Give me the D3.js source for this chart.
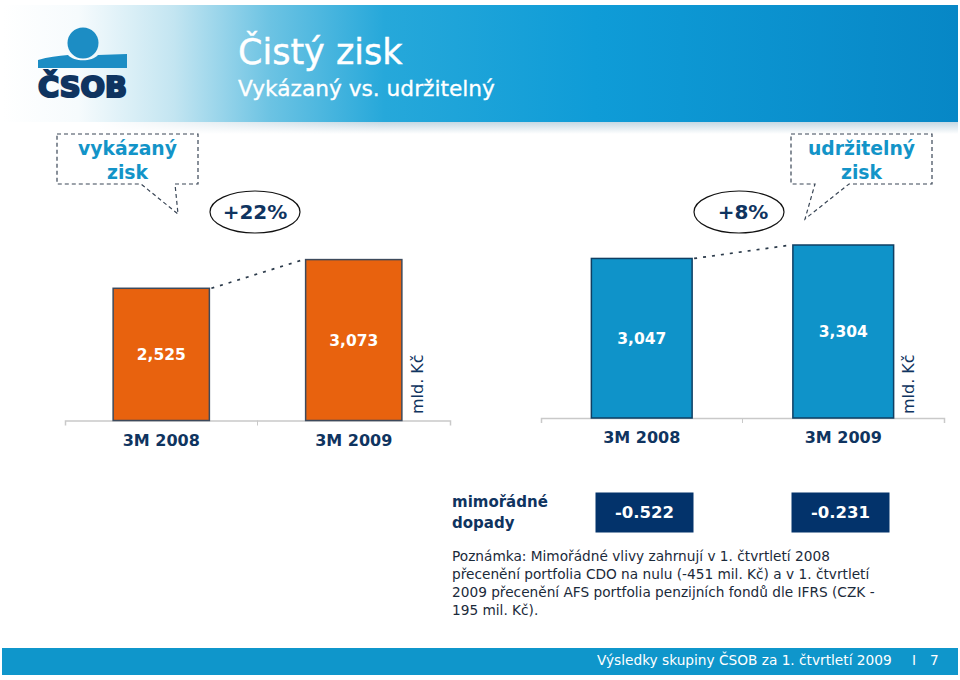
<!DOCTYPE html>
<html lang="cs">
<head>
<meta charset="utf-8">
<script src="https://cdn.jsdelivr.net/npm/d3@7/dist/d3.min.js"></script>
<style>
  html, body { margin: 0; padding: 0; background: #fff; }
  svg { display: block; }
  text { font-family: "DejaVu Sans", sans-serif; }
</style>
</head>
<body>
<div id="chart"></div>
<script>
const categories = ['3M 2008', '3M 2009'];
const reportedValues = [2525, 3073];
const sustainableValues = [3047, 3304];
const oneOffValues = [-0.522, -0.231];
const noteLines = [
  'Poznámka: Mimořádné vlivy zahrnují v 1. čtvrtletí 2008',
  'přecenění portfolia CDO na nulu (-451 mil. Kč) a v 1. čtvrtletí',
  '2009 přecenění AFS portfolia penzijních fondů dle IFRS (CZK -',
  '195 mil. Kč).'
];

const navy = '#0f3460';
const teal = '#1394c8';
const width = 960;
const height = 680;

const svg = d3.select('#chart').append('svg').attr('width', width).attr('height', height);
const defs = svg.append('defs');

const headerGrad = defs.append('linearGradient').attr('id', 'headerGrad');
[[0, '#ffffff'], [0.08, '#f6fbfd'], [0.18, '#c3e5f1'], [0.28, '#6cc3e3'], [0.4, '#26a8da'], [0.62, '#0f9cd7'], [1, '#0787c6']]
  .forEach(d => headerGrad.append('stop').attr('offset', d[0]).attr('stop-color', d[1]));
const fadeGrad = defs.append('linearGradient').attr('id', 'fadeGrad').attr('x1', 0).attr('x2', 0).attr('y1', 0).attr('y2', 1);
fadeGrad.append('stop').attr('offset', 0).attr('stop-color', '#c5d8e3');
fadeGrad.append('stop').attr('offset', 1).attr('stop-color', '#ffffff');
const fadeMask = defs.append('linearGradient').attr('id', 'fadeMask');
[[0, 1], [0.1, 1], [0.4, 0]].forEach(d => fadeMask.append('stop').attr('offset', d[0])
  .attr('stop-color', '#fff').attr('stop-opacity', d[1]));

// header
svg.append('rect').attr('x', 2).attr('y', 5).attr('width', 956).attr('height', 117).attr('fill', 'url(#headerGrad)');
svg.append('rect').attr('x', 2).attr('y', 122).attr('width', 956).attr('height', 12).attr('fill', 'url(#fadeGrad)');
svg.append('rect').attr('x', 2).attr('y', 122).attr('width', 956).attr('height', 12).attr('fill', 'url(#fadeMask)');
svg.append('text').attr('x', 238).attr('y', 64).attr('font-size', 35).attr('fill', '#fff')
  .attr('stroke', '#fff').attr('stroke-width', 0.4).text('Čistý zisk');
svg.append('text').attr('x', 238).attr('y', 96).attr('font-size', 21.7).attr('fill', '#fff')
  .attr('stroke', '#fff').attr('stroke-width', 0.3).text('Vykázaný vs. udržitelný');

// logo
const logo = svg.append('g');
logo.append('path')
  .attr('d', 'M38,60 C48,57 58,56 68,55 C74,62 92,62 98,55 L127,54 L127,68 L38,68 Z')
  .attr('fill', '#1c8dc4');
logo.append('circle').attr('cx', 83).attr('cy', 43).attr('r', 15.5).attr('fill', '#1c8dc4');
logo.append('text').attr('x', 38).attr('y', 97).attr('font-size', 29).attr('font-weight', 'bold')
  .attr('textLength', 89).attr('lengthAdjust', 'spacingAndGlyphs')
  .attr('fill', navy).attr('stroke', navy).attr('stroke-width', 2.2).text('ČSOB');

// one panel of two bars with its axis
function drawPanel(values, range, color, stroke, unitX) {
  const x = d3.scaleBand().domain(categories).range(range).paddingInner(0.5).paddingOuter(0.25);
  const y = d3.scaleLinear().domain([0, 3304]).range([0, 173]);
  const baseY = values === reportedValues ? 420.5 : 418;

  const g = svg.append('g');
  const axis = g.append('g').attr('transform', `translate(0,${baseY})`)
    .call(d3.axisBottom(x).tickSize(0).tickSizeOuter(5).tickPadding(14));
  axis.select('.domain').attr('stroke', '#c9c9c9').attr('stroke-width', 1.5);
  axis.selectAll('text').attr('font-size', 16).attr('font-weight', 'bold')
    .attr('fill', navy).style('font-family', '"DejaVu Sans", sans-serif');
  axis.append('line').attr('x1', (range[0] + range[1]) / 2).attr('x2', (range[0] + range[1]) / 2)
    .attr('y1', 0).attr('y2', 5).attr('stroke', '#c9c9c9');

  g.selectAll('rect.bar').data(values).join('rect').attr('class', 'bar')
    .attr('x', (d, i) => x(categories[i]))
    .attr('y', d => baseY - y(d))
    .attr('width', x.bandwidth())
    .attr('height', d => y(d))
    .attr('fill', color).attr('stroke', stroke).attr('stroke-width', 1.5);

  g.selectAll('text.val').data(values).join('text').attr('class', 'val')
    .attr('x', (d, i) => x(categories[i]) + x.bandwidth() / 2)
    .attr('y', d => baseY - y(d) / 2)
    .attr('dy', '0.36em').attr('text-anchor', 'middle')
    .attr('font-size', 15.5).attr('font-weight', 'bold').attr('fill', '#fff')
    .text(d => d3.format(',')(d));

  g.append('line')
    .attr('x1', x(categories[0]) + x.bandwidth() + 2).attr('y1', baseY - y(values[0]))
    .attr('x2', x(categories[1]) - 2).attr('y2', baseY - y(values[1]))
    .attr('stroke', '#2b3a4a').attr('stroke-width', 1.7).attr('stroke-dasharray', '3 6');

  g.append('text').attr('transform', `translate(${unitX},414) rotate(-90)`)
    .attr('font-size', 16).attr('fill', navy).text('mld. Kč');
}
drawPanel(reportedValues, [65, 450], '#e8620e', '#3d4a5c', 423);
drawPanel(sustainableValues, [541, 944], '#0f93c9', '#0f3f63', 914);

// callouts
function callout(x0, x1, tailPath, lines) {
  svg.append('path')
    .attr('d', `M${x0},134 H${x1} V184 ${tailPath} V134`)
    .attr('fill', 'none').attr('stroke', '#3a4656').attr('stroke-width', 1.2).attr('stroke-dasharray', '4 3');
  lines.forEach((t, i) => svg.append('text')
    .attr('x', (x0 + x1) / 2).attr('y', 155 + i * 24).attr('text-anchor', 'middle')
    .attr('font-size', 18.8).attr('font-weight', 'bold').attr('fill', teal).text(t));
}
callout(57, 198, 'H175 L178,214 L141,184 H57', ['vykázaný', 'zisk']);
callout(791, 932, 'H849 L805,219 L815,184 H791', ['udržitelný', 'zisk']);

// growth bubbles
function bubble(cx, textX, label) {
  svg.append('ellipse').attr('cx', cx).attr('cy', 212).attr('rx', 45).attr('ry', 21)
    .attr('fill', '#fff').attr('stroke', '#111').attr('stroke-width', 1.2);
  svg.append('text').attr('x', textX).attr('y', 219).attr('text-anchor', 'middle')
    .attr('font-size', 20).attr('font-weight', 'bold').attr('fill', navy).text(label);
}
bubble(255, 255, '+22%');
bubble(739, 743, '+8%');

// one-off effects
const oneOffX = d3.scaleBand().domain(categories).range([546.5, 938.5]).paddingInner(0.5).paddingOuter(0.25);
svg.selectAll('rect.box').data(oneOffValues).join('rect').attr('class', 'box')
  .attr('x', (d, i) => oneOffX(categories[i])).attr('y', 492.5)
  .attr('width', oneOffX.bandwidth()).attr('height', 40).attr('fill', '#03336b');
svg.selectAll('text.box').data(oneOffValues).join('text').attr('class', 'box')
  .attr('x', (d, i) => oneOffX(categories[i]) + oneOffX.bandwidth() / 2).attr('y', 518)
  .attr('text-anchor', 'middle').attr('font-size', 16.5).attr('font-weight', 'bold').attr('fill', '#fff')
  .text(d => d.toFixed(3));
['mimořádné', 'dopady'].forEach((t, i) => svg.append('text')
  .attr('x', 452).attr('y', 507 + i * 21).attr('font-size', 15).attr('font-weight', 'bold').attr('fill', navy).text(t));

// note
svg.selectAll('text.note').data(noteLines).join('text').attr('class', 'note')
  .attr('x', 452).attr('y', (d, i) => 561 + i * 18)
  .attr('font-size', 13.7).attr('fill', '#1b2a3a').text(d => d);

// footer
svg.append('rect').attr('x', 2).attr('y', 648).attr('width', 956).attr('height', 27).attr('fill', '#0f96cb');
[[597, 'Výsledky skupiny ČSOB za 1. čtvrtletí 2009'], [912, 'I'], [930, '7']].forEach(d => svg.append('text')
  .attr('x', d[0]).attr('y', 665).attr('font-size', 13.7).attr('fill', '#fff').text(d[1]));
</script>
</body>
</html>
